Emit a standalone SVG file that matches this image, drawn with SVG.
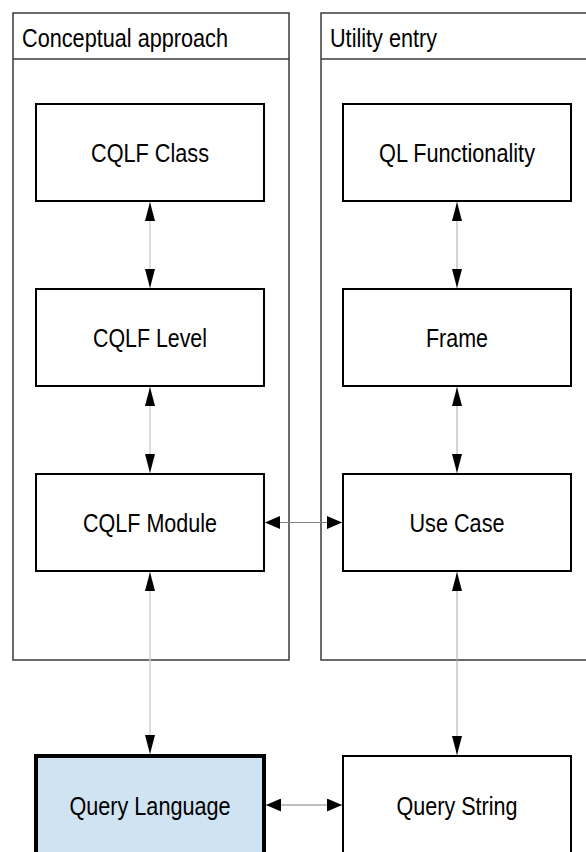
<svg xmlns="http://www.w3.org/2000/svg" width="586" height="852" viewBox="0 0 586 852">
<style>
.cont{fill:#fff;stroke:#3a3a3a;stroke-width:1.5}
.hdr{stroke:#3a3a3a;stroke-width:1.5}
.node{fill:#fff;stroke:#000;stroke-width:2}
.main{fill:#cfe3f2;stroke:#000;stroke-width:4}
text{font-family:"Liberation Sans",Arial,sans-serif;font-size:26.5px;fill:#000}
.c{text-anchor:middle}
.lv{stroke:#d0d0d0;stroke-width:1.5;fill:none}
.rv{stroke:#a8a8a8;stroke-width:1;fill:none}
.hz{stroke:#808080;stroke-width:1;fill:none}
</style>
<defs>
<marker id="av" markerUnits="userSpaceOnUse" markerWidth="19" markerHeight="10" refX="19" refY="5" orient="auto-start-reverse" viewBox="0 0 19 10"><path d="M0,0 L19,5 L0,10 z" fill="#000"/></marker>
<marker id="ah" markerUnits="userSpaceOnUse" markerWidth="15" markerHeight="13" refX="15" refY="6.5" orient="auto-start-reverse" viewBox="0 0 15 13"><path d="M0,0 L15,6.5 L0,13 z" fill="#000"/></marker>
</defs>
<g id="conceptual-approach">
<rect class="cont" x="13" y="13" width="276" height="647"/>
<line class="hdr" x1="13" y1="59" x2="289" y2="59"/>
<text x="22" y="47" textLength="206" lengthAdjust="spacingAndGlyphs">Conceptual approach</text>
</g>
<g id="utility-entry">
<rect class="cont" x="321" y="13" width="276" height="647"/>
<line class="hdr" x1="321" y1="59" x2="597" y2="59"/>
<text x="330" y="47" textLength="107" lengthAdjust="spacingAndGlyphs">Utility entry</text>
</g>
<g id="cqlf-class"><rect class="node" x="36" y="104" width="228" height="97"/><text class="c" x="150" y="162" textLength="118" lengthAdjust="spacingAndGlyphs">CQLF Class</text></g>
<g id="cqlf-level"><rect class="node" x="36" y="289" width="228" height="97"/><text class="c" x="150" y="347" textLength="114" lengthAdjust="spacingAndGlyphs">CQLF Level</text></g>
<g id="cqlf-module"><rect class="node" x="36" y="474" width="228" height="97"/><text class="c" x="150" y="532" textLength="134" lengthAdjust="spacingAndGlyphs">CQLF Module</text></g>
<g id="ql-functionality"><rect class="node" x="343" y="104" width="228" height="97"/><text class="c" x="457" y="162" textLength="156" lengthAdjust="spacingAndGlyphs">QL Functionality</text></g>
<g id="frame"><rect class="node" x="343" y="289" width="228" height="97"/><text class="c" x="457" y="347" textLength="62" lengthAdjust="spacingAndGlyphs">Frame</text></g>
<g id="use-case"><rect class="node" x="343" y="474" width="228" height="97"/><text class="c" x="457" y="532" textLength="95" lengthAdjust="spacingAndGlyphs">Use Case</text></g>
<g id="query-language"><rect class="main" x="36" y="756" width="228" height="98"/><text class="c" x="150" y="815" textLength="161" lengthAdjust="spacingAndGlyphs">Query Language</text></g>
<g id="query-string"><rect class="node" x="343" y="756" width="228" height="98"/><text class="c" x="457" y="815" textLength="121" lengthAdjust="spacingAndGlyphs">Query String</text></g>
<g id="connectors">
<line class="lv" x1="150" y1="202" x2="150" y2="288" marker-start="url(#av)" marker-end="url(#av)"/>
<line class="lv" x1="150" y1="387" x2="150" y2="473" marker-start="url(#av)" marker-end="url(#av)"/>
<line class="lv" x1="150" y1="572" x2="150" y2="754" marker-start="url(#av)" marker-end="url(#av)"/>
<line class="rv" x1="457" y1="202" x2="457" y2="288" marker-start="url(#av)" marker-end="url(#av)"/>
<line class="rv" x1="457" y1="387" x2="457" y2="473" marker-start="url(#av)" marker-end="url(#av)"/>
<line class="rv" x1="457" y1="572" x2="457" y2="755" marker-start="url(#av)" marker-end="url(#av)"/>
<line class="hz" x1="265" y1="522.5" x2="342" y2="522.5" marker-start="url(#ah)" marker-end="url(#ah)"/>
<line class="hz" x1="266" y1="805" x2="342" y2="805" marker-start="url(#ah)" marker-end="url(#ah)"/>
</g>
</svg>
